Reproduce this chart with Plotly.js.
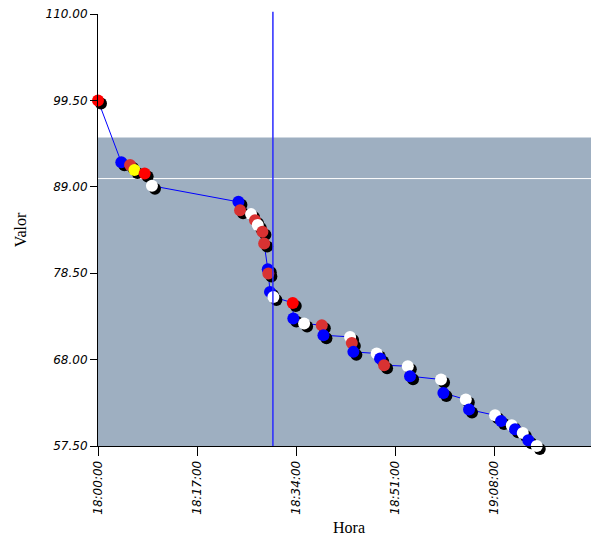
<!DOCTYPE html>
<html>
<head>
<meta charset="utf-8">
<script src="https://cdn.plot.ly/plotly-3.0.1.min.js"></script>
<style>
  html, body { margin: 0; padding: 0; background: #fff; overflow: hidden; }
  #chart { width: 600px; height: 537px; }
  .scatterlayer .point { filter: drop-shadow(3px 3px 0 #000); }
</style>
</head>
<body>
<div id="chart"></div>
<script>
// ---- data ----
var day = '2000-01-01 ';
var horas = [
  '18:00:00','18:04:00','18:05:30','18:06:15','18:08:00','18:09:15',
  '18:24:05','18:24:22','18:26:15','18:26:56','18:27:24','18:28:12','18:28:30',
  '18:29:07','18:29:13','18:29:30','18:30:05',
  '18:33:24','18:33:30','18:35:21','18:38:23','18:38:40',
  '18:43:14','18:43:32','18:43:48','18:47:48','18:48:23','18:49:04',
  '18:53:08','18:53:31','18:58:50','18:59:14','19:03:05','19:03:38',
  '19:08:06','19:09:08','19:10:58','19:11:32','19:12:51','19:13:48','19:15:15'
];
var valores = [
  99.5, 91.97, 91.64, 91.03, 90.63, 89.12,
  87.17, 86.16, 85.68, 84.95, 84.35, 83.53, 82.12,
  78.99, 78.47, 76.23, 75.62,
  74.89, 72.99, 72.38, 72.18, 70.96,
  70.76, 70.03, 68.94, 68.74, 68.13, 67.32,
  67.19, 65.98, 65.58, 63.95, 63.14, 61.93,
  61.23, 60.54, 60.02, 59.53, 59.08, 58.19, 57.5
];
var estados = [
  'R','B','D','Y','R','W',
  'B','D','W','D','W','D','D',
  'B','D','B','W',
  'R','B','W','D','B',
  'W','D','B','W','B','D',
  'W','B','W','B','W','B',
  'W','B','W','B','W','B','W'
];
var yTicks = [57.5, 68, 78.5, 89, 99.5, 110];
var faixaMin = 57.5, faixaMax = 95;
var linhaRef = 90;
var horaRef = '18:30:00';
var xInicio = '18:00:00', xFim = '19:26:06';

// ---- styles ----
var corEstado = { R: '#ff0000', D: '#d83232', B: '#0000ff', W: '#ffffff', Y: '#ffff00' };

var trace = {
  type: 'scatter',
  mode: 'lines+markers',
  x: horas.map(function (h) { return day + h; }),
  y: valores,
  line: { color: '#0000ff', width: 1 },
  marker: {
    size: 12,
    color: estados.map(function (e) { return corEstado[e]; }),
    line: { width: 0 }
  },
  cliponaxis: false,
  hoverinfo: 'x+y'
};

var tickFont = { family: 'DejaVu Sans', size: 12, color: '#000', style: 'italic' };
var titleFont = { family: 'Liberation Serif', size: 16, color: '#000' };

var layout = {
  width: 600, height: 537,
  margin: { l: 98, r: 0, t: 14, b: 91, pad: 0 },
  paper_bgcolor: '#ffffff',
  plot_bgcolor: '#ffffff',
  showlegend: false,
  xaxis: {
    type: 'date',
    range: [day + xInicio, day + xFim],
    tick0: day + xInicio,
    dtick: 17 * 60 * 1000,
    tickformat: '%H:%M:%S',
    tickangle: -90,
    ticks: 'outside', ticklen: 9, tickcolor: '#000', tickwidth: 1,
    tickfont: tickFont,
    showgrid: false, zeroline: false,
    showline: true, linecolor: '#000', linewidth: 1,
    title: { text: 'Hora', font: titleFont, standoff: 8 }
  },
  yaxis: {
    range: [57.5, 110],
    tickmode: 'array',
    tickvals: yTicks,
    ticktext: yTicks.map(function (v) { return v.toFixed(2); }),
    ticks: 'outside', ticklen: 7, tickcolor: '#000', tickwidth: 1,
    tickfont: tickFont,
    showgrid: false, zeroline: false,
    showline: true, linecolor: '#000', linewidth: 1,
    title: { text: 'Valor', font: titleFont, standoff: 14 }
  },
  shapes: [
    { type: 'rect', layer: 'below', xref: 'paper', yref: 'y',
      x0: 0, x1: 1, y0: faixaMin, y1: faixaMax,
      fillcolor: '#9eafc1', line: { width: 0 } },
    { type: 'line', layer: 'below', xref: 'paper', yref: 'y',
      x0: 0, x1: 1, y0: linhaRef, y1: linhaRef,
      line: { color: '#ffffff', width: 1 } },
    { type: 'line', layer: 'above', xref: 'x', yref: 'paper',
      x0: day + horaRef, x1: day + horaRef, y0: 0, y1: 1.005,
      line: { color: '#2a2aff', width: 1.5 } }
  ]
};

Plotly.newPlot('chart', [trace], layout, { displayModeBar: false, staticPlot: true });
</script>
</body>
</html>
